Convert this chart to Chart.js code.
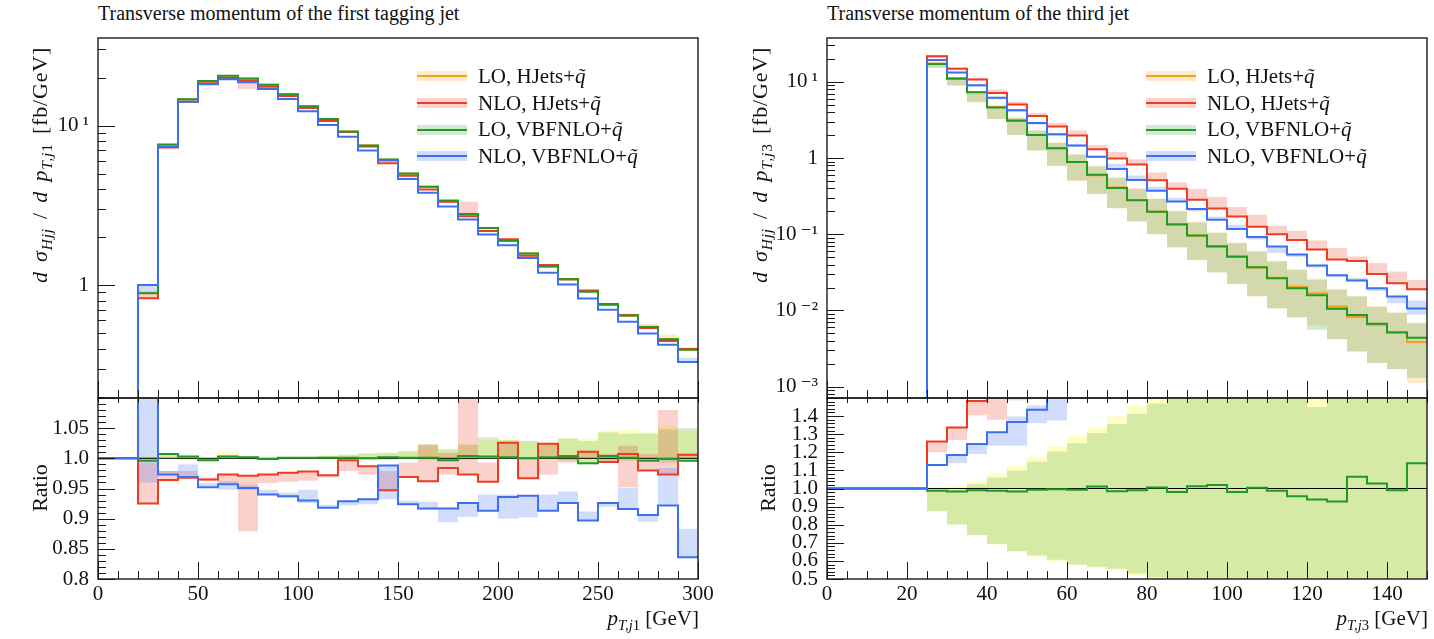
<!DOCTYPE html>
<html>
<head>
<meta charset="utf-8">
<title>Transverse momentum of the tagging and third jets</title>
<script src="https://cdn.jsdelivr.net/npm/chart.js@4.4.1/dist/chart.umd.min.js"></script>
<style>
  body { margin: 0; background: #fff; font-family: "Liberation Serif", "DejaVu Serif", serif; color: #111; }
  #page { position: relative; width: 1434px; height: 639px; overflow: hidden; }
  .pane { position: absolute; }
  .pane canvas { display: block; }
  .title { position: absolute; top: 2px; font-size: 20px; white-space: nowrap; }
  .rot { position: absolute; width: 0; height: 0; }
  .rot span { position: absolute; left: 0; top: 0; white-space: nowrap; font-size: 22px;
              transform: translate(-50%, -50%) rotate(-90deg); }
  .rot .ytl { letter-spacing: 0.8px; word-spacing: 3px; }
  .xtitle { position: absolute; top: 606px; font-size: 21px; white-space: nowrap; text-align: right; }
  sub { font-size: 0.7em; line-height: 0; }
  .legend { position: absolute; top: 63px; font-size: 21px; }
  .legend .row { height: 26.7px; display: flex; align-items: center; white-space: nowrap; }
  .legend .key { position: relative; width: 50px; height: 10px; margin-right: 11px; }
  .legend .band { position: absolute; left: 0; right: 0; top: 0; bottom: 0; }
  .legend .ln { position: absolute; left: 0; right: 0; top: 4px; height: 2px; }
</style>
</head>
<body>
<div id="page">
  <div class="title" style="left:98px">Transverse momentum of the first tagging jet</div>
  <div class="title" style="left:827px">Transverse momentum of the third jet</div>

  <div class="pane" style="left:0;top:30px"><canvas id="mainJ1" width="720" height="370"></canvas></div>
  <div class="pane" style="left:0;top:390px"><canvas id="ratioJ1" width="720" height="249"></canvas></div>
  <div class="pane" style="left:729px;top:30px"><canvas id="mainJ3" width="705" height="370"></canvas></div>
  <div class="pane" style="left:729px;top:390px"><canvas id="ratioJ3" width="705" height="249"></canvas></div>

  <div class="rot" style="left:40px;top:165px"><span class="ytl"><i>d σ</i><sub><i>Hjj</i></sub> / <i>d p</i><sub><i>T,j</i>1</sub> [fb/GeV]</span></div>
  <div class="rot" style="left:760px;top:165px"><span class="ytl"><i>d σ</i><sub><i>Hjj</i></sub> / <i>d p</i><sub><i>T,j</i>3</sub> [fb/GeV]</span></div>
  <div class="rot" style="left:40px;top:488px"><span>Ratio</span></div>
  <div class="rot" style="left:768px;top:488px"><span>Ratio</span></div>

  <div class="xtitle" style="right:735px"><i>p</i><sub><i>T,j</i>1</sub> [GeV]</div>
  <div class="xtitle" style="right:6px"><i>p</i><sub><i>T,j</i>3</sub> [GeV]</div>

  <div class="legend" id="legendJ1" style="left:417px"></div>
  <div class="legend" id="legendJ3" style="left:1146px"></div>
</div>

<script>
// ---- data: first tagging jet (10 GeV bins) ----
const jet1Edges = [20, 30, 40, 50, 60, 70, 80, 90, 100, 110, 120, 130, 140, 150, 160, 170, 180, 190, 200, 210, 220, 230, 240, 250, 260, 270, 280, 290, 300];

const loHJetsJ1  = [0.894, 7.55, 14.55, 19.06, 20.44, 19.66, 18.02, 15.68, 13.19, 10.99, 9.16, 7.49, 6.11, 4.995, 4.136, 3.39, 2.78, 2.27, 1.896, 1.58, 1.307, 1.088, 0.917, 0.757, 0.644, 0.549, 0.458, 0.395];
const nloHJetsJ1 = [0.827, 7.3, 14.1, 18.4, 19.9, 19.1, 17.5, 15.3, 12.9, 10.7, 9.1, 7.39, 5.8, 4.84, 3.98, 3.33, 2.7, 2.18, 1.94, 1.53, 1.335, 1.09, 0.925, 0.753, 0.648, 0.538, 0.446, 0.397];
const loVbfJ1    = [0.89, 7.6, 14.6, 19.0, 20.5, 19.7, 18.0, 15.7, 13.2, 11.0, 9.17, 7.49, 6.12, 5.0, 4.14, 3.38, 2.79, 2.28, 1.9, 1.58, 1.31, 1.09, 0.91, 0.76, 0.645, 0.547, 0.458, 0.393];
const nloVbfJ1   = [1.0, 7.35, 14.1, 18.15, 19.55, 18.7, 16.95, 14.7, 12.3, 10.1, 8.52, 6.98, 6.04, 4.62, 3.79, 3.11, 2.575, 2.075, 1.775, 1.48, 1.193, 1.007, 0.823, 0.701, 0.59, 0.497, 0.422, 0.33];

// visible uncertainty bands in the upper panel (null = too thin to see)
const loHJetsBandJ1  = [null, null, null, null, null, null, null, null, null, null, null, null, null, null, null, null, null, null, null, null, null, null, null, null, [0.644, 0.665], [0.549, 0.575], [0.458, 0.49], [0.395, 0.41]];
const nloHJetsBandJ1 = [[0.827, 0.88], null, null, null, null, [17.0, 19.1], null, null, null, null, null, null, null, null, null, null, [2.7, 3.33], null, null, null, null, null, null, null, null, null, null, null];
const nloVbfBandJ1   = [[0.88, 1.0], null, null, null, null, null, null, null, null, null, null, null, null, null, null, null, null, null, null, null, null, null, null, null, null, null, null, [0.33, 0.35]];

// ratio panel (to LO, HJets)
const nloHJetsRatioJ1 = [0.925, 0.964, 0.968, 0.965, 0.973, 0.971, 0.973, 0.976, 0.978, 0.972, 0.997, 0.987, 0.947, 0.969, 0.962, 0.984, 0.973, 0.961, 1.026, 0.967, 1.024, 1.004, 1.011, 0.994, 1.007, 0.98, 0.973, 1.006];
const loVbfRatioJ1    = [0.996, 1.007, 1.003, 0.997, 1.003, 1.002, 0.999, 1.001, 1.001, 1.001, 1.001, 1.0, 1.002, 1.001, 1.001, 0.997, 1.004, 1.003, 1.002, 1.0, 1.002, 1.002, 0.992, 1.004, 1.001, 0.996, 0.999, 0.996];
const nloVbfRatioJ1   = [1.13, 0.973, 0.969, 0.952, 0.957, 0.951, 0.94, 0.937, 0.93, 0.918, 0.929, 0.932, 0.988, 0.924, 0.917, 0.917, 0.926, 0.913, 0.936, 0.938, 0.913, 0.926, 0.897, 0.926, 0.916, 0.906, 0.922, 0.836];

const loHJetsBandRatioJ1  = [[0.997, 1.003], [1.0, 1.006], [0.998, 1.004], [0.996, 1.0], [1.001, 1.012], [0.999, 1.003], [0.998, 1.001], [0.999, 1.002], [0.999, 1.002], [0.998, 1.006], [0.998, 1.006], [0.998, 1.008], [0.998, 1.009], [0.999, 1.012], [0.998, 1.02], [0.997, 1.015], [0.998, 1.022], [1.0, 1.03], [1.0, 1.033], [0.998, 1.028], [1.002, 1.024], [0.997, 1.033], [0.993, 1.032], [0.998, 1.046], [0.998, 1.048], [0.997, 1.043], [0.998, 1.054], [0.997, 1.046]];
const loVbfBandRatioJ1    = [[0.994, 1.002], [1.0, 1.008], [0.998, 1.004], [0.995, 1.0], [1.0, 1.005], [0.999, 1.003], [0.998, 1.001], [0.999, 1.002], [0.999, 1.002], [0.999, 1.004], [0.998, 1.006], [0.998, 1.008], [0.998, 1.009], [0.999, 1.012], [0.998, 1.023], [0.996, 1.015], [0.998, 1.023], [1.001, 1.035], [1.001, 1.03], [0.998, 1.029], [1.004, 1.023], [0.996, 1.033], [0.99, 1.029], [0.996, 1.043], [0.996, 1.041], [0.996, 1.041], [0.993, 1.048], [0.996, 1.05]];
const nloHJetsBandRatioJ1 = [[0.925, 0.993], [0.962, 0.979], [0.968, 0.979], [0.962, 0.968], [0.959, 0.973], [0.879, 0.971], [0.959, 0.973], [0.961, 0.976], [0.963, 0.978], [0.968, 0.972], [0.979, 0.997], [0.973, 0.987], [0.946, 0.979], [0.969, 0.993], [0.962, 1.023], [0.973, 1.009], [0.973, 1.12], [0.961, 0.993], [1.001, 1.026], [0.967, 1.001], [0.973, 1.024], [0.993, 1.004], [0.999, 1.011], [0.994, 1.007], [0.952, 1.021], [0.98, 1.007], [0.973, 1.08], [0.999, 1.006]];
const nloVbfBandRatioJ1   = [[0.96, 1.12], [0.973, 0.979], [0.968, 0.99], [0.951, 0.959], [0.948, 0.962], [0.948, 0.956], [0.94, 0.948], [0.935, 0.943], [0.926, 0.948], [0.918, 0.923], [0.922, 0.929], [0.924, 0.932], [0.932, 0.988], [0.924, 0.93], [0.915, 0.928], [0.894, 0.917], [0.903, 0.926], [0.913, 0.94], [0.9, 0.94], [0.902, 0.938], [0.913, 0.94], [0.926, 0.945], [0.897, 0.912], [0.92, 0.926], [0.916, 0.951], [0.895, 0.906], [0.922, 0.984], [0.836, 0.883]];

// ---- data: third jet (5 GeV bins) ----
const jet3Edges = [25, 30, 35, 40, 45, 50, 55, 60, 65, 70, 75, 80, 85, 90, 95, 100, 105, 110, 115, 120, 125, 130, 135, 140, 145, 150];

const loHJetsJ3  = [17.4, 11.2, 7.37, 4.66, 3.13, 2.01, 1.345, 0.89, 0.595, 0.411, 0.2825, 0.197, 0.1366, 0.0953, 0.0682, 0.0515, 0.0367, 0.02685, 0.0205, 0.0168, 0.0113, 0.0082, 0.0065, 0.0052, 0.00386];
const nloHJetsJ3 = [21.7, 14.8, 10.7, 7.16, 5.03, 3.55, 2.59, 1.97, 1.3, 0.985, 0.82, 0.512, 0.394, 0.283, 0.217, 0.171, 0.125, 0.1, 0.084, 0.063, 0.0465, 0.0445, 0.03, 0.0227, 0.019];
const loVbfJ3    = [17.2, 11.0, 7.3, 4.6, 3.08, 2.0, 1.34, 0.884, 0.602, 0.405, 0.28, 0.198, 0.134, 0.0965, 0.0695, 0.0505, 0.0368, 0.0265, 0.0196, 0.0158, 0.0105, 0.0087, 0.0067, 0.00513, 0.0044];
const nloVbfJ3   = [19.3, 13.3, 9.0, 6.17, 4.24, 2.89, 2.05, 1.46, 1.04, 0.719, 0.515, 0.372, 0.268, 0.214, 0.155, 0.117, 0.0918, 0.069, 0.0543, 0.039, 0.029, 0.0247, 0.0196, 0.0152, 0.0106];

const loHJetsBandJ3  = [[15.3, 17.6], [8.94, 11.2], [5.4, 7.37], [3.26, 4.9], [2.01, 3.4], [1.26, 2.3], [0.78, 1.6], [0.5, 1.12], [0.335, 0.79], [0.218, 0.56], [0.146, 0.4], [0.099, 0.295], [0.067, 0.203], [0.0455, 0.146], [0.0312, 0.106], [0.0222, 0.078], [0.0152, 0.0605], [0.0106, 0.0448], [0.0081, 0.0346], [0.0063, 0.0262], [0.0042, 0.0192], [0.0029, 0.0155], [0.00204, 0.0114], [0.0017, 0.0094], [0.00112, 0.0069]];
const loVbfBandJ3    = [[15.3, 17.2], [8.94, 11.0], [5.4, 7.31], [3.26, 4.87], [2.01, 3.37], [1.26, 2.29], [0.794, 1.58], [0.509, 1.11], [0.34, 0.778], [0.221, 0.547], [0.148, 0.393], [0.1007, 0.29], [0.0679, 0.1995], [0.0462, 0.143], [0.0318, 0.1037], [0.0224, 0.0766], [0.01556, 0.0594], [0.0107, 0.044], [0.00816, 0.0341], [0.00556, 0.0252], [0.0042, 0.0187], [0.0029, 0.0152], [0.00204, 0.0111], [0.00169, 0.0093], [0.0013, 0.0068]];
const nloHJetsBandJ3 = [[20.7, 22.5], [14.8, 15.5], [10.7, 11.3], [7.16, 7.9], [5.03, 5.5], [3.55, 3.9], [2.59, 2.9], [1.97, 2.3], [1.29, 1.48], [0.985, 1.2], [0.82, 0.96], [0.512, 0.649], [0.394, 0.48], [0.283, 0.393], [0.217, 0.308], [0.171, 0.228], [0.125, 0.18], [0.1, 0.129], [0.084, 0.111], [0.063, 0.083], [0.0465, 0.0659], [0.0445, 0.0511], [0.03, 0.0418], [0.0227, 0.0324], [0.019, 0.0252]];
const nloVbfBandJ3   = [[18.5, 19.5], [12.8, 13.4], [8.6, 9.1], [5.9, 6.2], [4.05, 4.3], [2.75, 2.95], [1.95, 2.1], [1.4, 1.5], [1.0, 1.07], [0.719, 0.84], [0.515, 0.59], [0.372, 0.42], [0.268, 0.3], [0.2, 0.214], [0.155, 0.17], [0.117, 0.133], [0.085, 0.0918], [0.057, 0.069], [0.0505, 0.0543], [0.0365, 0.039], [0.0275, 0.029], [0.0247, 0.0268], [0.018, 0.0196], [0.0124, 0.0152], [0.0088, 0.0135]];

const nloHJetsRatioJ3 = [1.259, 1.337, 1.483, 1.54, null, null, null, null, null, null, null, null, null, null, null, null, null, null, null, null, null, null, null, null, null];
const loVbfRatioJ3    = [0.987, 0.983, 0.991, 0.987, 0.983, 0.993, 0.996, 0.993, 1.011, 0.985, 0.991, 1.006, 0.981, 1.013, 1.019, 0.98, 1.004, 0.987, 0.957, 0.939, 0.928, 1.065, 1.028, 0.991, 1.139];
const nloVbfRatioJ3   = [1.13, 1.185, 1.246, 1.311, 1.367, 1.435, 1.52, null, null, null, null, null, null, null, null, null, null, null, null, null, null, null, null, null, null];

const loHJetsBandRatioJ3  = [[0.87, 1.01], [0.8, 1.019], [0.74, 1.039], [0.69, 1.083], [0.65, 1.126], [0.625, 1.176], [0.6, 1.233], [0.575, 1.293], [0.56, 1.339], [0.548, 1.398], [0.522, 1.459], [0.495, 1.496], [0.45, 1.55], [0.45, 1.55], [0.45, 1.55], [0.45, 1.55], [0.45, 1.55], [0.45, 1.55], [0.45, 1.55], [0.45, 1.55], [0.45, 1.55], [0.45, 1.55], [0.45, 1.55], [0.45, 1.55], [0.45, 1.55]];
const loVbfBandRatioJ3    = [[0.876, 1.0], [0.802, 1.003], [0.743, 1.024], [0.694, 1.061], [0.654, 1.098], [0.63, 1.148], [0.607, 1.204], [0.58, 1.25], [0.567, 1.306], [0.557, 1.357], [0.53, 1.413], [0.509, 1.469], [0.45, 1.55], [0.45, 1.55], [0.45, 1.55], [0.45, 1.55], [0.45, 1.55], [0.45, 1.55], [0.45, 1.55], [0.45, 1.45], [0.45, 1.55], [0.45, 1.55], [0.45, 1.55], [0.45, 1.55], [0.45, 1.55]];
const nloHJetsBandRatioJ3 = [[1.2, 1.259], [1.268, 1.337], [1.404, 1.483], [1.38, 1.55], [1.487, 1.55], null, null, null, null, null, null, null, null, null, null, null, null, null, null, null, null, null, null, null, null];
const nloVbfBandRatioJ3   = [null, [1.141, 1.185], [1.191, 1.246], [1.237, 1.311], [1.237, 1.398], [1.361, 1.459], [1.376, 1.55], null, null, null, null, null, null, null, null, null, null, null, null, null, null, null, null, null, null];

// ---- axis ticks / labels ----
const mainTicksJ1 = [1, 10];
const mainLabelsJ1 = ['1', '10\u2009¹'];
const mainTicksJ3 = [0.001, 0.01, 0.1, 1, 10];
const mainLabelsJ3 = ['10\u2009⁻³', '10\u2009⁻²', '10\u2009⁻¹', '1', '10\u2009¹'];
const ratioTicksJ1 = [0.8, 0.85, 0.9, 0.95, 1.0, 1.05];
const ratioLabelsJ1 = ['0.8', '0.85', '0.9', '0.95', '1.0', '1.05'];
const ratioTicksJ3 = [0.5, 0.6, 0.7, 0.8, 0.9, 1.0, 1.1, 1.2, 1.3, 1.4];
const ratioLabelsJ3 = ['0.5', '0.6', '0.7', '0.8', '0.9', '1.0', '1.1', '1.2', '1.3', '1.4'];
const xLabelsJ1 = [0, 50, 100, 150, 200, 250, 300];
const xLabelsJ3 = [0, 20, 40, 60, 80, 100, 120, 140];

const seriesNames = ['LO, HJets+q̃', 'NLO, HJets+q̃', 'LO, VBFNLO+q̃', 'NLO, VBFNLO+q̃'];

// ---- styles ----
const lineColors = ['#f4a11d', '#ee3b22', '#209a20', '#3c6ff2'];
const bandColors = ['rgba(255,170,60,0.25)', 'rgba(240,70,50,0.25)', 'rgba(40,150,40,0.2)', 'rgba(70,120,240,0.25)'];
const yellowBand = 'rgba(255,255,60,0.3)';

Chart.defaults.font.family = "'Liberation Serif', 'DejaVu Serif', serif";
Chart.defaults.font.size = 21;
Chart.defaults.color = '#111';

// inward tick marks + frame, positioned through the chart's own scales
const frameTicks = {
  id: 'frameTicks',
  afterDatasetsDraw(chart, args, opts) {
    const { ctx, chartArea: a } = chart;
    const x = chart.scales.x, y = chart.scales.y;
    ctx.save();
    ctx.strokeStyle = '#1a1a1a';
    ctx.lineWidth = 1;
    ctx.beginPath();
    x.ticks.forEach(t => {
      const px = Math.round(x.getPixelForValue(t.value)) + 0.5;
      const major = Math.abs(t.value / opts.xMajor - Math.round(t.value / opts.xMajor)) < 1e-6;
      ctx.moveTo(px, a.bottom);
      ctx.lineTo(px, a.bottom - (major ? 17 : 8));
      if (opts.topTicks) {
        ctx.moveTo(px, a.top);
        ctx.lineTo(px, a.top + 5);
      }
    });
    const yt = [];
    if (opts.log) {
      for (let k = Math.floor(Math.log10(y.min)); k <= Math.ceil(Math.log10(y.max)); k++) {
        for (let m = 1; m <= 9; m++) {
          const v = m * Math.pow(10, k);
          if (v >= y.min && v <= y.max) yt.push([v, m === 1]);
        }
      }
    } else {
      const n = Math.round((y.max - y.min) / opts.yMinor);
      for (let i = 0; i <= n; i++) {
        const v = y.min + i * opts.yMinor;
        yt.push([v, Math.abs(v / opts.yMajor - Math.round(v / opts.yMajor)) < 1e-6]);
      }
    }
    yt.forEach(([v, major]) => {
      const py = Math.round(y.getPixelForValue(v)) + 0.5;
      ctx.moveTo(a.left, py);
      ctx.lineTo(a.left + (major ? 17 : 8), py);
    });
    ctx.stroke();
    ctx.lineWidth = 1.4;
    ctx.strokeRect(a.left, a.top, a.width, a.height);
    ctx.restore();
  }
};

// histogram outline: starts at the axis floor on the first edge
function histLine(edges, vals, floor) {
  const pts = [{ x: edges[0], y: floor }];
  vals.forEach((v, i) => pts.push({ x: edges[i], y: v }));
  pts.push({ x: edges[edges.length - 1], y: vals[vals.length - 1] });
  return pts;
}
function ratioLine(edges, vals, xStart) {
  const pts = [{ x: xStart, y: 1 }];
  vals.forEach((v, i) => pts.push({ x: edges[i], y: v }));
  pts.push({ x: edges[edges.length - 1], y: vals[vals.length - 1] });
  return pts;
}
function bandBars(edges, pairs) {
  const out = [];
  pairs.forEach((p, i) => { if (p) out.push({ x: (edges[i] + edges[i + 1]) / 2, y: p }); });
  return out;
}
function lineSet(data, color, order) {
  return { type: 'line', data, borderColor: color, borderWidth: 2, pointRadius: 0, stepped: true, fill: false, order };
}
function bandSet(data, color, order) {
  return { type: 'bar', data, backgroundColor: color, borderWidth: 0, inflateAmount: 0, grouped: false,
           barPercentage: 1, categoryPercentage: 1, order };
}
function noPad(s) {
  s.paddingTop = 0; s.paddingBottom = 0; s.paddingLeft = 0; s.paddingRight = 0;
}

function makePanel(id, p) {
  return new Chart(document.getElementById(id), {
    type: 'line',
    data: { datasets: p.datasets },
    options: {
      responsive: false,
      animation: false,
      events: [],
      layout: { padding: { top: 8, right: p.padRight, left: 0, bottom: 0 }, autoPadding: false },
      plugins: {
        legend: { display: false },
        tooltip: { enabled: false },
        frameTicks: { xMajor: p.xMajor, topTicks: p.topTicks, log: p.log, yMinor: p.yMinor, yMajor: p.yMajor }
      },
      scales: {
        x: {
          type: 'linear', min: p.xMin, max: p.xMax, offset: false,
          grid: { display: false, drawTicks: false }, border: { display: false },
          ticks: { display: p.showX, stepSize: p.xStep, autoSkip: false, maxRotation: 0, padding: 3,
                   callback: v => (p.xLabels.includes(v) ? String(v) : '') },
          afterFit: s => { s.height = p.showX ? 60 : 2; noPad(s); }
        },
        y: {
          type: p.log ? 'logarithmic' : 'linear', min: p.yMin, max: p.yMax,
          grid: { display: false, drawTicks: false }, border: { display: false },
          ticks: { padding: 9, autoSkip: false, callback: (v, i) => p.yLabels[i] },
          afterBuildTicks: s => { s.ticks = p.yTicks.map(v => ({ value: v })); },
          afterFit: s => { s.width = 98; noPad(s); }
        }
      }
    },
    plugins: [frameTicks]
  });
}

const floorJ1 = 0.196, floorJ3 = 0.00071;

makePanel('mainJ1', {
  padRight: 22, xMin: 0, xMax: 300, xStep: 10, xMajor: 50, xLabels: xLabelsJ1, showX: false, topTicks: false,
  log: true, yMin: floorJ1, yMax: 35.4, yTicks: mainTicksJ1, yLabels: mainLabelsJ1,
  datasets: [
    bandSet(bandBars(jet1Edges, loHJetsBandJ1), bandColors[0], 24),
    bandSet(bandBars(jet1Edges, nloHJetsBandJ1), bandColors[1], 23),
    bandSet(bandBars(jet1Edges, nloVbfBandJ1), bandColors[3], 21),
    lineSet(histLine(jet1Edges, loHJetsJ1, floorJ1), lineColors[0], 4),
    lineSet(histLine(jet1Edges, nloHJetsJ1, floorJ1), lineColors[1], 3),
    lineSet(histLine(jet1Edges, loVbfJ1, floorJ1), lineColors[2], 2),
    lineSet(histLine(jet1Edges, nloVbfJ1, floorJ1), lineColors[3], 1)
  ]
});

makePanel('ratioJ1', {
  padRight: 22, xMin: 0, xMax: 300, xStep: 10, xMajor: 50, xLabels: xLabelsJ1, showX: true, topTicks: true,
  log: false, yMin: 0.8, yMax: 1.1, yMinor: 0.01, yMajor: 0.05, yTicks: ratioTicksJ1, yLabels: ratioLabelsJ1,
  datasets: [
    bandSet(bandBars(jet1Edges, loHJetsBandRatioJ1), yellowBand, 24),
    bandSet(bandBars(jet1Edges, loVbfBandRatioJ1), bandColors[2], 23),
    bandSet(bandBars(jet1Edges, nloHJetsBandRatioJ1), bandColors[1], 22),
    bandSet(bandBars(jet1Edges, nloVbfBandRatioJ1), bandColors[3], 21),
    { type: 'line', data: [{ x: 0, y: 1 }, { x: 300, y: 1 }], borderColor: '#000', borderWidth: 1, pointRadius: 0, order: 5 },
    lineSet(ratioLine(jet1Edges, nloHJetsRatioJ1, 0), lineColors[1], 3),
    lineSet(ratioLine(jet1Edges, loVbfRatioJ1, 0), lineColors[2], 2),
    lineSet(ratioLine(jet1Edges, nloVbfRatioJ1, 0), lineColors[3], 1)
  ]
});

makePanel('mainJ3', {
  padRight: 7, xMin: 0, xMax: 150, xStep: 5, xMajor: 20, xLabels: xLabelsJ3, showX: false, topTicks: false,
  log: true, yMin: floorJ3, yMax: 37.6, yTicks: mainTicksJ3, yLabels: mainLabelsJ3,
  datasets: [
    bandSet(bandBars(jet3Edges, loHJetsBandJ3), bandColors[0], 24),
    bandSet(bandBars(jet3Edges, loVbfBandJ3), bandColors[2], 23),
    bandSet(bandBars(jet3Edges, nloHJetsBandJ3), bandColors[1], 22),
    bandSet(bandBars(jet3Edges, nloVbfBandJ3), bandColors[3], 21),
    lineSet(histLine(jet3Edges, loHJetsJ3, floorJ3), lineColors[0], 4),
    lineSet(histLine(jet3Edges, nloHJetsJ3, floorJ3), lineColors[1], 3),
    lineSet(histLine(jet3Edges, loVbfJ3, floorJ3), lineColors[2], 2),
    lineSet(histLine(jet3Edges, nloVbfJ3, floorJ3), lineColors[3], 1)
  ]
});

makePanel('ratioJ3', {
  padRight: 7, xMin: 0, xMax: 150, xStep: 5, xMajor: 20, xLabels: xLabelsJ3, showX: true, topTicks: true,
  log: false, yMin: 0.5, yMax: 1.5, yMinor: 0.02, yMajor: 0.1, yTicks: ratioTicksJ3, yLabels: ratioLabelsJ3,
  datasets: [
    bandSet(bandBars(jet3Edges, loHJetsBandRatioJ3), yellowBand, 24),
    bandSet(bandBars(jet3Edges, loVbfBandRatioJ3), bandColors[2], 23),
    bandSet(bandBars(jet3Edges, nloHJetsBandRatioJ3), bandColors[1], 22),
    bandSet(bandBars(jet3Edges, nloVbfBandRatioJ3), bandColors[3], 21),
    { type: 'line', data: [{ x: 0, y: 1 }, { x: 150, y: 1 }], borderColor: '#000', borderWidth: 1, pointRadius: 0, order: 5 },
    lineSet(ratioLine(jet3Edges, nloHJetsRatioJ3, 0), lineColors[1], 3),
    lineSet(ratioLine(jet3Edges, loVbfRatioJ3, 0), lineColors[2], 2),
    lineSet(ratioLine(jet3Edges, nloVbfRatioJ3, 0), lineColors[3], 1)
  ]
});

// legends (HTML, inside the upper panels)
function buildLegend(elId) {
  const el = document.getElementById(elId);
  seriesNames.forEach((name, i) => {
    const row = document.createElement('div');
    row.className = 'row';
    row.innerHTML = `<span class="key"><span class="band" style="background:${bandColors[i]}"></span>` +
      `<span class="ln" style="background:${lineColors[i]}"></span></span>` +
      `<span>${name.replace('q̃', '<i>q̃</i>')}</span>`;
    el.appendChild(row);
  });
}
buildLegend('legendJ1');
buildLegend('legendJ3');
</script>
</body>
</html>
